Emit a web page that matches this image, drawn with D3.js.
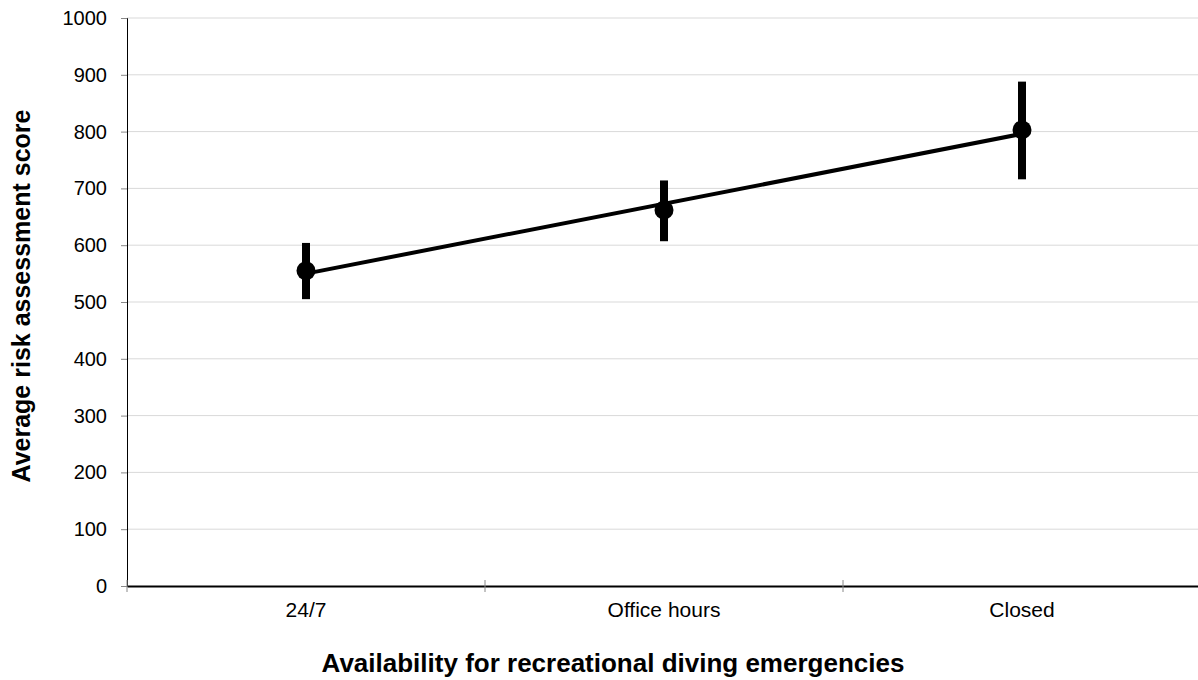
<!DOCTYPE html>
<html><head><meta charset="utf-8">
<script src="https://cdn.jsdelivr.net/npm/d3@7"></script>
<style>body{margin:0;background:#fff}svg{display:block;font-family:Arial,"Liberation Sans",sans-serif}</style>
</head><body><svg id="c" width="1198" height="680"></svg>
<script>
const categories = ["24/7", "Office hours", "Closed"];
const means = [555, 662, 803];
const errLow = [505, 607, 716];
const errHigh = [604, 714, 888];
const trendEnds = [550, 796];
const yTicks = [0,100,200,300,400,500,600,700,800,900,1000];

const svg = d3.select("#c");
const L = 127, R = 1201, T = 18, B = 586;
const x = d3.scaleBand().domain(categories).range([L, R]).padding(0);
const y = d3.scaleLinear().domain([0, 1000]).range([B, T]);
const FF = "Arial, 'Liberation Sans', sans-serif";

// gridlines
svg.append("g").selectAll("line").data(yTicks.filter(d=>d>0)).join("line")
  .attr("x1", L).attr("x2", R).attr("y1", d=>y(d)).attr("y2", d=>y(d))
  .attr("stroke", "#d9d9d9").attr("stroke-width", 1);

// y axis
const ya = svg.append("g").attr("transform", `translate(${L},0)`)
  .call(d3.axisLeft(y).tickValues(yTicks).tickFormat(d3.format("d")).tickSize(6).tickPadding(14));
ya.select(".domain").attr("stroke", "#000").attr("stroke-width", 1);
ya.selectAll(".tick line").attr("stroke", "#888");
ya.selectAll("text").attr("font-size", 20).attr("fill", "#000").attr("font-family", FF);

// x axis
const xa = svg.append("g").attr("transform", `translate(0,${B})`)
  .call(d3.axisBottom(x).tickSize(0).tickPadding(16));
xa.select(".domain").attr("stroke", "#000").attr("stroke-width", 2);
xa.selectAll("text").attr("font-size", 21).attr("fill", "#000").attr("font-family", FF);
// boundary ticks
const bounds = categories.map(c => x(c));
svg.append("g").selectAll("line").data(bounds).join("line")
  .attr("x1", d=>d).attr("x2", d=>d).attr("y1", B - 6).attr("y2", B + 6)
  .attr("stroke", "#888").attr("stroke-width", 1);

const cx = c => x(c) + x.bandwidth()/2;

// error bars
svg.append("g").selectAll("line").data(categories).join("line")
  .attr("x1", cx).attr("x2", cx)
  .attr("y1", (c,i)=>y(errHigh[i])).attr("y2", (c,i)=>y(errLow[i]))
  .attr("stroke", "#000").attr("stroke-width", 8);

// trend line
svg.append("line")
  .attr("x1", cx(categories[0])).attr("x2", cx(categories[2]))
  .attr("y1", y(trendEnds[0])).attr("y2", y(trendEnds[1]))
  .attr("stroke", "#000").attr("stroke-width", 4);

// markers
svg.append("g").selectAll("circle").data(categories).join("circle")
  .attr("cx", cx).attr("cy", (c,i)=>y(means[i])).attr("r", 9.5).attr("fill", "#000");

// titles
svg.append("text").attr("x", 613).attr("y", 672).attr("text-anchor", "middle")
  .attr("font-size", 26).attr("font-weight", "bold").attr("font-family", FF)
  .text("Availability for recreational diving emergencies");
svg.append("text").attr("transform", `translate(30,${(T+B)/2 - 6}) rotate(-90)`).attr("text-anchor", "middle")
  .attr("font-size", 25).attr("font-weight", "bold").attr("font-family", FF)
  .text("Average risk assessment score");
</script></body></html>
